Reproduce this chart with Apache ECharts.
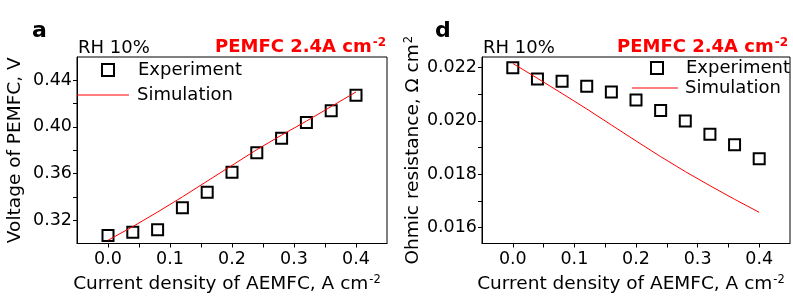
<!DOCTYPE html>
<html><head><meta charset="utf-8">
<script src="https://cdn.jsdelivr.net/npm/echarts@6/dist/echarts.min.js"></script>
<style>html,body{margin:0;padding:0;background:#fff}#c{width:793px;height:299px}</style>
</head><body><div id="c"></div><script>
const currentDensity = [0, 0.04, 0.08, 0.12, 0.16, 0.20, 0.24, 0.28, 0.32, 0.36, 0.40];
const voltageExperiment = [0.3069, 0.3097, 0.3119, 0.3306, 0.3439, 0.3611, 0.3778, 0.3903, 0.4039, 0.4139, 0.4272];
const voltageSimulation = [0.3028, 0.3145, 0.3270, 0.3400, 0.3535, 0.3670, 0.3805, 0.3930, 0.4050, 0.4175, 0.4300];
const resistanceExperiment = [0.02200, 0.02157, 0.02149, 0.02130, 0.02109, 0.02079, 0.02039, 0.02000, 0.01950, 0.01911, 0.01858];
const resistanceSimulation = [0.02216, 0.02160, 0.02103, 0.02045, 0.01985, 0.01925, 0.01866, 0.01810, 0.01757, 0.01706, 0.01657];
const xTickLabels = [0, 0.1, 0.2, 0.3, 0.4];
const xTicks = [0, 0.05, 0.1, 0.15, 0.2, 0.25, 0.3, 0.35, 0.4];
const voltageTickLabels = [0.32, 0.36, 0.40, 0.44];
const voltageTicks = [0.32, 0.34, 0.36, 0.38, 0.40, 0.42, 0.44];
const resistanceTickLabels = [0.016, 0.018, 0.020, 0.022];
const resistanceTicks = [0.016, 0.017, 0.018, 0.019, 0.020, 0.021, 0.022];

const FONT = 'DejaVu Sans';
const pairs = (xs, ys) => xs.map((x, i) => [x, ys[i]]);
const chart = echarts.init(document.getElementById('c'), null, {renderer: 'canvas'});
const supRich = {sup: {fontFamily: FONT, fontSize: 11.5, color: '#000', verticalAlign: 'top', padding: [0,0,8,1]}};

function xAxis(gridIndex) {
  return {
    type: 'value', gridIndex, min: -0.05, max: 0.45,
    name: 'Current density of AEMFC, A cm{sup|-2}', nameLocation: 'middle', nameGap: 31,
    nameTextStyle: {fontFamily: FONT, fontSize: 18.5, color: '#000', rich: supRich, padding: [0, 10, 0, 0]},
    axisLine: {show: true, onZero: false, lineStyle: {color: '#000', width: 1}},
    axisTick: {show: true, customValues: xTicks, length: 4, lineStyle: {color: '#000'}},
    axisLabel: {customValues: xTickLabels, fontFamily: FONT, fontSize: 17.5, color: '#000', margin: 7,
      formatter: v => v.toFixed(1)},
    splitLine: {show: false}
  };
}
function yAxis(gridIndex, min, max, ticks, labels, digits, name, gap) {
  return {
    type: 'value', gridIndex, min, max,
    name, nameLocation: 'middle', nameGap: gap,
    nameTextStyle: {fontFamily: FONT, fontSize: 18.5, color: '#000', rich: supRich},
    axisLine: {show: true, onZero: false, lineStyle: {color: '#000', width: 1}},
    axisTick: {show: true, customValues: ticks, length: 4, lineStyle: {color: '#000'}},
    axisLabel: {customValues: labels, fontFamily: FONT, fontSize: 17.5, color: '#000', margin: 5,
      formatter: v => v.toFixed(digits)},
    splitLine: {show: false}
  };
}
const sq = {color: 'rgba(255,255,255,0)', borderColor: '#000', borderWidth: 2, opacity: 1};
const titleRich = {sup: {fontFamily: FONT, fontSize: 12, fontWeight: 'bold', color: '#ff0000', verticalAlign: 'top', padding: [0,0,8,1]}};
const legText = pad => ({fontFamily: FONT, fontSize: 18, color: '#000', padding: [0,0,0,pad]});

chart.setOption({
  animation: false,
  backgroundColor: '#fff',
  grid: [
    {left: 77, top: 57, width: 310, height: 193, show: true, borderColor: '#000', borderWidth: 1, backgroundColor: 'transparent'},
    {left: 482, top: 57, width: 308, height: 192, show: true, borderColor: '#000', borderWidth: 1, backgroundColor: 'transparent'}
  ],
  title: [
    {text: 'a', left: 32, top: 20, padding: 0, textStyle: {fontFamily: FONT, fontSize: 22, fontWeight: 'bold', color: '#000'}},
    {text: 'd', left: 435, top: 20, padding: 0, textStyle: {fontFamily: FONT, fontSize: 22, fontWeight: 'bold', color: '#000'}},
    {text: 'RH 10%', left: 78, top: 39, padding: 0, textStyle: {fontFamily: FONT, fontSize: 18, fontWeight: 'normal', color: '#000'}},
    {text: 'RH 10%', left: 483, top: 39, padding: 0, textStyle: {fontFamily: FONT, fontSize: 18, fontWeight: 'normal', color: '#000'}},
    {text: 'PEMFC 2.4A cm{sup|-2}', right: 407, top: 37, padding: 0, textStyle: {fontFamily: FONT, fontSize: 18, fontWeight: 'bold', color: '#ff0000', rich: titleRich}},
    {text: 'PEMFC 2.4A cm{sup|-2}', right: 5, top: 37, padding: 0, textStyle: {fontFamily: FONT, fontSize: 18, fontWeight: 'bold', color: '#ff0000', rich: titleRich}}
  ],
  legend: [
    {data: [{name: 'Experiment', icon: 'rect'}], left: 101, top: 61, padding: 0, itemWidth: 12, itemHeight: 12,
      textStyle: legText(19), selectedMode: false},
    {data: [{name: 'Simulation', icon: 'rect'}], left: 77, top: 86, padding: 0, itemWidth: 52, itemHeight: 1,
      textStyle: legText(3), selectedMode: false},
    {data: [{name: 'Experiment ', icon: 'rect'}], left: 650, top: 59, padding: 0, itemWidth: 12, itemHeight: 12,
      textStyle: legText(18), selectedMode: false},
    {data: [{name: 'Simulation ', icon: 'rect'}], left: 632, top: 79, padding: 0, itemWidth: 46, itemHeight: 1,
      textStyle: legText(2), selectedMode: false}
  ],
  xAxis: [xAxis(0), xAxis(1)],
  yAxis: [
    yAxis(0, 0.30, 0.46, voltageTicks, voltageTickLabels, 2, 'Voltage of PEMFC, V', 52),
    yAxis(1, 0.0154, 0.0224, resistanceTicks, resistanceTickLabels, 3, 'Ohmic resistance, \u03A9 cm{sup|2}', 51)
  ],
  series: [
    {name: 'Simulation', type: 'line', xAxisIndex: 0, yAxisIndex: 0, data: pairs(currentDensity, voltageSimulation),
      showSymbol: false, symbol: 'none', lineStyle: {color: '#ff0000', width: 1}, itemStyle: {color: '#ff0000'}},
    {name: 'Experiment', type: 'scatter', xAxisIndex: 0, yAxisIndex: 0, data: pairs(currentDensity, voltageExperiment),
      symbol: 'rect', symbolSize: 11, itemStyle: sq},
    {name: 'Simulation ', type: 'line', xAxisIndex: 1, yAxisIndex: 1, data: pairs(currentDensity, resistanceSimulation),
      showSymbol: false, symbol: 'none', lineStyle: {color: '#ff0000', width: 1}, itemStyle: {color: '#ff0000'}},
    {name: 'Experiment ', type: 'scatter', xAxisIndex: 1, yAxisIndex: 1, data: pairs(currentDensity, resistanceExperiment),
      symbol: 'rect', symbolSize: 11, itemStyle: sq}
  ]
});
</script></body></html>
